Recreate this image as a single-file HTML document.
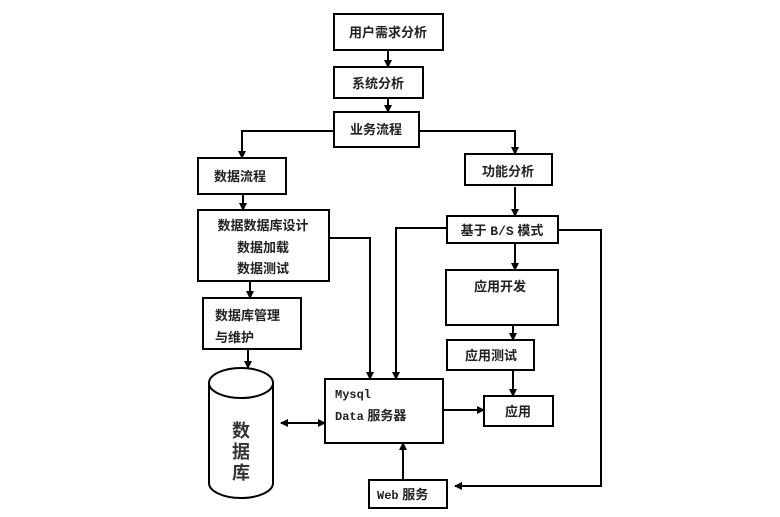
<!DOCTYPE html>
<html><head><meta charset="utf-8"><style>
html,body{margin:0;padding:0;background:#fff;}
svg{display:block;}
text{font-family:"Liberation Sans","Noto Sans CJK SC",sans-serif;font-size:13px;font-weight:bold;fill:#222;}
.m{font-family:"Liberation Mono","Noto Sans CJK SC",monospace;}
</style></head><body>
<svg width="780" height="517" viewBox="0 0 780 517" xmlns="http://www.w3.org/2000/svg">
<defs>
<marker id="a" markerWidth="8" markerHeight="8" refX="7" refY="4" orient="auto" markerUnits="userSpaceOnUse">
<path d="M0,0 L8,4 L0,8 z" fill="#000"/></marker>
<marker id="b" markerWidth="8" markerHeight="8" refX="1" refY="4" orient="auto" markerUnits="userSpaceOnUse">
<path d="M8,0 L0,4 L8,8 z" fill="#000"/></marker>
</defs>
<g fill="#fff" stroke="#000" stroke-width="2">
<rect x="334" y="14" width="109" height="36"/>
<rect x="334" y="67" width="89" height="31"/>
<rect x="334" y="112" width="85" height="35"/>
<rect x="198" y="158" width="88" height="36"/>
<rect x="465" y="154" width="87" height="31"/>
<rect x="447" y="216" width="111" height="27"/>
<rect x="198" y="210" width="131" height="71"/>
<rect x="203" y="298" width="98" height="51"/>
<rect x="446" y="270" width="112" height="55"/>
<rect x="447" y="340" width="87" height="30"/>
<rect x="484" y="396" width="69" height="30"/>
<rect x="325" y="379" width="118" height="64"/>
<rect x="369" y="480" width="78" height="28"/>
<path d="M209,383 L209,483 A32,15 0 0 0 273,483 L273,383 A32,15 0 0 0 209,383 A32,15 0 0 0 273,383"/>
</g>
<g fill="none" stroke="#000" stroke-width="2">
<path d="M388,50 V67" marker-end="url(#a)"/>
<path d="M388,98 V112" marker-end="url(#a)"/>
<path d="M334,131 H242 V158" marker-end="url(#a)"/>
<path d="M419,131 H515 V154" marker-end="url(#a)"/>
<path d="M515,187 V216" marker-end="url(#a)"/>
<path d="M243,194 V210" marker-end="url(#a)"/>
<path d="M250,281 V298" marker-end="url(#a)"/>
<path d="M248,349 V368" marker-end="url(#a)"/>
<path d="M329,238 H370 V379" marker-end="url(#a)"/>
<path d="M447,228 H396 V379" marker-end="url(#a)"/>
<path d="M558,230 H601 V486 H455" marker-end="url(#a)"/>
<path d="M515,243 V270" marker-end="url(#a)"/>
<path d="M513,325 V340" marker-end="url(#a)"/>
<path d="M513,370 V396" marker-end="url(#a)"/>
<path d="M443,410 H484" marker-end="url(#a)"/>
<path d="M403,480 V443" marker-end="url(#a)"/>
<path d="M281,423 H325" marker-start="url(#b)" marker-end="url(#a)"/>
</g>
<text x="388" y="37" text-anchor="middle">用户需求分析</text>
<text x="378" y="88" text-anchor="middle">系统分析</text>
<text x="376" y="134" text-anchor="middle">业务流程</text>
<text x="240" y="181" text-anchor="middle">数据流程</text>
<text x="508" y="176" text-anchor="middle">功能分析</text>
<text x="502" y="235" text-anchor="middle">基于 <tspan class="m">B/S</tspan> 模式</text>
<text x="263" y="230" text-anchor="middle">数据数据库设计</text>
<text x="263" y="252" text-anchor="middle">数据加载</text>
<text x="263" y="273" text-anchor="middle">数据测试</text>
<text x="215" y="320">数据库管理</text>
<text x="215" y="342">与维护</text>
<text x="241" y="437" text-anchor="middle" style="font-size:18px;fill:#333">数</text>
<text x="241" y="458" text-anchor="middle" style="font-size:18px;fill:#333">据</text>
<text x="241" y="479" text-anchor="middle" style="font-size:18px;fill:#333">库</text>
<text x="500" y="291" text-anchor="middle">应用开发</text>
<text x="491" y="360" text-anchor="middle">应用测试</text>
<text x="518" y="416" text-anchor="middle">应用</text>
<text x="335" y="398" class="m" style="font-size:12px">Mysql</text>
<text x="335" y="420"><tspan class="m" style="font-size:12px">Data</tspan> 服务器</text>
<text x="377" y="499"><tspan class="m" style="font-size:12px">Web</tspan> 服务</text>
</svg>
</body></html>
